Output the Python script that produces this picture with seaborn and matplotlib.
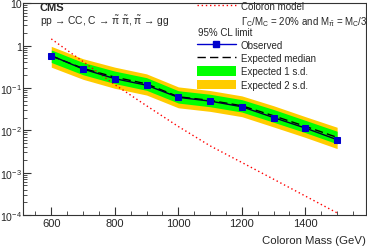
import numpy as np
import pandas as pd
import matplotlib
matplotlib.use("Agg")
import matplotlib.pyplot as plt
import seaborn as sns
from matplotlib.lines import Line2D
from matplotlib.patches import Patch
from matplotlib.ticker import MultipleLocator, LogLocator, FixedLocator, NullFormatter, FuncFormatter

mass = [600, 700, 800, 900, 1000, 1100, 1200, 1300, 1400, 1500]
observed = [0.58, 0.28, 0.166, 0.116, 0.060, 0.049, 0.036, 0.020, 0.0113, 0.0060]
expected = [0.57, 0.29, 0.18, 0.125, 0.062, 0.051, 0.038, 0.022, 0.0124, 0.0068]
exp_1up = [0.79, 0.40, 0.25, 0.175, 0.086, 0.071, 0.053, 0.031, 0.0172, 0.0095]
exp_1dn = [0.40, 0.205, 0.127, 0.088, 0.044, 0.036, 0.027, 0.0155, 0.0088, 0.0048]
exp_2up = [0.96, 0.49, 0.31, 0.215, 0.106, 0.087, 0.065, 0.038, 0.021, 0.0118]
exp_2dn = [0.31, 0.16, 0.098, 0.068, 0.034, 0.028, 0.021, 0.012, 0.0068, 0.0037]
model = [1.44, 0.42, 0.12, 0.038, 0.0123, 0.0043, 0.00174, 0.0007, 0.00028, 0.000112]

sns.set_style("ticks")
plt.rcParams['font.family'] = ['Liberation Sans', 'DejaVu Sans']
plt.rcParams['mathtext.fontset'] = 'custom'
plt.rcParams['mathtext.rm'] = 'Liberation Sans'
plt.rcParams['mathtext.it'] = 'Liberation Sans:italic'
plt.rcParams['mathtext.default'] = 'regular'

df = pd.DataFrame({"mass": mass, "observed": observed, "expected": expected, "model": model})

fig = plt.figure(figsize=(3.67, 2.51), dpi=100)
ax = fig.add_axes([0.0627, 0.1394, 0.9338, 0.8436])

ax.fill_between(mass, exp_2dn, exp_2up, color='#FFCC00', lw=0, zorder=1)
ax.fill_between(mass, exp_1dn, exp_1up, color='#00FF00', lw=0, zorder=2)
sns.lineplot(data=df, x="mass", y="expected", ax=ax, color='black', lw=1.0, zorder=3)
ax.lines[-1].set_dashes((6, 3))
sns.lineplot(data=df, x="mass", y="observed", ax=ax, color='#000033', lw=1.0,
             marker='s', markersize=5, markerfacecolor='#0000CC', markeredgecolor='#0000CC', zorder=4)
sns.lineplot(data=df, x="mass", y="model", ax=ax, color='#FF0000', lw=1.0, zorder=3)
ax.lines[-1].set_linestyle((0, (1, 2)))

ax.set_yscale('log')
ax.set_xlim(511, 1590)
ax.set_ylim(1e-4, 10)
ax.set_xlabel('')
ax.set_ylabel('')

ax.xaxis.set_major_locator(MultipleLocator(200))
ax.xaxis.set_minor_locator(MultipleLocator(50))
ax.yaxis.set_major_locator(FixedLocator([1e-4, 1e-3, 1e-2, 1e-1, 1, 10]))
ax.yaxis.set_minor_locator(LogLocator(base=10, subs=np.arange(2, 10)))
ax.yaxis.set_minor_formatter(NullFormatter())

def yfmt(v, pos):
    if v >= 9:
        return '10'
    if v >= 0.9:
        return '1'
    e = int(round(np.log10(v)))
    return r'$10^{%d}$' % e
ax.yaxis.set_major_formatter(FuncFormatter(yfmt))

ax.tick_params(axis='both', which='major', direction='in', length=6, width=0.8, labelsize=8,
               color='#333333', pad=2)
ax.tick_params(axis='both', which='minor', direction='in', length=3, width=0.6, color='#333333')
ax.tick_params(axis='y', pad=1, labelsize=7.6)
for s in ax.spines.values():
    s.set_linewidth(0.8)
    s.set_color('#333333')

fig.text(0.996, 0.02, 'Coloron Mass (GeV)', ha='right', va='bottom', fontsize=8.2)

fig.text(40/367, 1 - 8/251, 'CMS', fontsize=8, fontweight='bold', va='center', ha='left')
fig.text(40/367, 1 - 21.5/251, 'pp \u2192 CC, C \u2192 $\\tilde{\\pi}$ $\\tilde{\\pi}$, $\\tilde{\\pi}$ \u2192 gg',
         fontsize=7.4, va='center', ha='left')

# legend block
h1 = [Line2D([], [], color='#FF0000', lw=1.0, linestyle=(0, (1, 2))),
      Line2D([], [], color='none')]
l1 = ['Coloron model', r'$\Gamma_C/M_C$ = 20% and $M_{\tilde{\pi}}$ = $M_C$/3']
fig.legend(h1, l1, loc='upper left', bbox_to_anchor=(197/367, 1 - 1.5/251), frameon=False,
           fontsize=7.0, handlelength=4.0, handletextpad=0.5, labelspacing=0.35,
           borderpad=0, borderaxespad=0)
fig.text(198/367, 1 - 33/251, '95% CL limit', fontsize=7.0, va='center', ha='left')
h2 = [Line2D([], [], color='#0000CC', lw=1.0, marker='s', markersize=4.5),
      Line2D([], [], color='black', lw=1.0, dashes=(6, 3)),
      Patch(facecolor='#00FF00', edgecolor='none'),
      Patch(facecolor='#FFCC00', edgecolor='none')]
l2 = ['Observed', 'Expected median', 'Expected 1 s.d.', 'Expected 2 s.d.']
fig.legend(h2, l2, loc='upper left', bbox_to_anchor=(197/367, 1 - 41/251), frameon=False,
           fontsize=7.0, handlelength=4.0, handleheight=1.1, handletextpad=0.5, labelspacing=0.33,
           borderpad=0, borderaxespad=0)

fig.savefig('out.png', dpi=100)
